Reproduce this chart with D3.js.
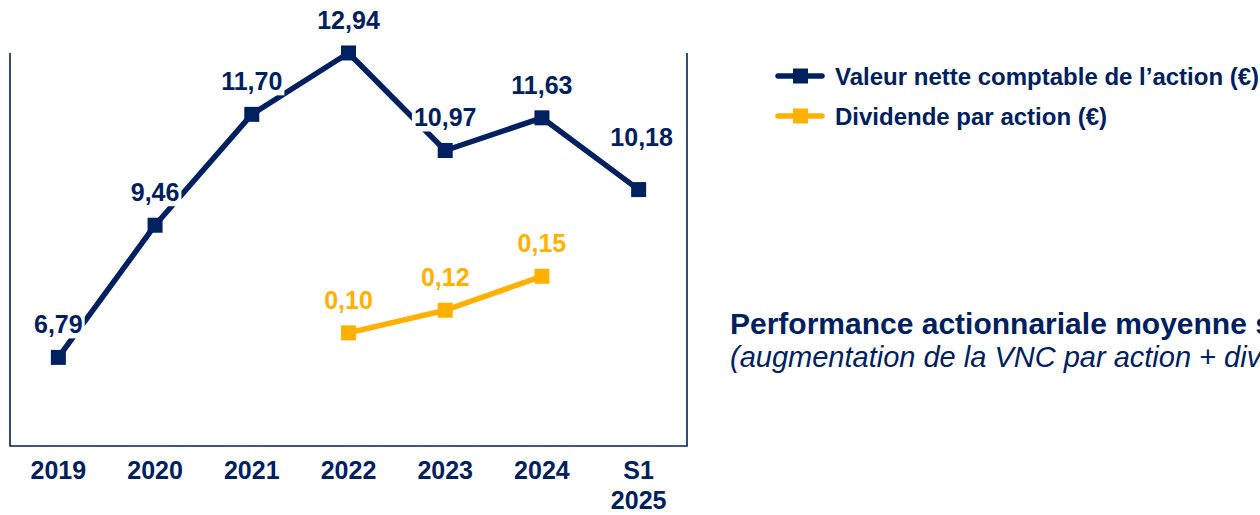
<!DOCTYPE html>
<html lang="fr">
<head>
<meta charset="UTF-8">
<title>VNC et dividende par action</title>
<script src="https://d3js.org/d3.v7.min.js"></script>
<style>
  body { margin: 0; padding: 0; width: 1260px; height: 515px; overflow: hidden; background: #fff; }
  svg { display: block; font-family: "Liberation Sans", Arial, sans-serif; }
</style>
</head>
<body>
<svg id="chart" width="1260" height="515"></svg>
<script>
// data
const periods = ["2019", "2020", "2021", "2022", "2023", "2024", "S1 2025"];
const vnc = [6.79, 9.46, 11.70, 12.94, 10.97, 11.63, 10.18];
const dividendPeriods = ["2022", "2023", "2024"];
const dividend = [0.10, 0.12, 0.15];
const legendLabels = ["Valeur nette comptable de l\u2019action (\u20ac)", "Dividende par action (\u20ac)"];
// the note is cut by the right edge of the slide
const noteTitle = "Performance actionnariale moyenne s";
const noteSub = "(augmentation de la VNC par action + div";

const navy = "#002060";
const orange = "#FFB000";

const svg = d3.select("#chart");
const plotLeft = 10, plotRight = 687, plotTop = 53, plotBottom = 446;

const x = d3.scaleBand().domain(periods).range([plotLeft, plotRight]);
const cx = d => x(d) + x.bandwidth() / 2;
const y = d3.scaleLinear().domain([5, 13]).range([plotBottom, 50]);
const y2 = d3.scaleLinear().domain([0, 0.35]).range([plotBottom, 50]);

const fmt = v => d3.format(".2f")(v).replace(".", ",");

// frame: left, right and bottom lines
svg.append("path")
  .attr("d", `M${plotLeft},${plotTop}V${plotBottom}H${plotRight}V${plotTop}`)
  .attr("fill", "none")
  .attr("stroke", navy)
  .attr("stroke-width", 1.6);

// x axis labels
const xl = svg.append("g");
periods.forEach(p => {
  const t = xl.append("text")
    .attr("x", cx(p))
    .attr("y", 479)
    .attr("text-anchor", "middle")
    .attr("font-size", 25)
    .attr("font-weight", "bold")
    .attr("fill", navy);
  p.split(" ").forEach((w, i) => {
    t.append("tspan").attr("x", cx(p)).attr("dy", i ? 30 : 0).text(w);
  });
});

function series(cats, vals, scale, color) {
  const pts = cats.map((c, i) => ({ c, v: vals[i], x: cx(c), y: scale(vals[i]) }));

  svg.append("path")
    .datum(pts)
    .attr("d", d3.line().x(d => d.x).y(d => d.y))
    .attr("fill", "none")
    .attr("stroke", color)
    .attr("stroke-width", 5.5)
    .attr("stroke-linejoin", "round");

  const lab = svg.append("g").selectAll("g").data(pts).enter().append("g");
  lab.each(function (d, i) {
    const g = d3.select(this);
    // last point's label sits higher and a bit to the right
    const last = color === navy && i === pts.length - 1;
    const t = g.append("text")
      .attr("x", d.x + (last ? 3 : 0))
      .attr("y", d.y - (last ? 44 : 24))
      .attr("text-anchor", "middle")
      .attr("font-size", 25)
      .attr("font-weight", "bold")
      .attr("fill", color)
      .text(fmt(d.v));
    const b = t.node().getBBox();
    g.insert("rect", "text")
      .attr("x", b.x - 2).attr("y", b.y + 2)
      .attr("width", b.width + 4).attr("height", b.height - 2)
      .attr("fill", "#fff");
  });

  svg.append("g").selectAll("rect").data(pts).enter().append("rect")
    .attr("x", d => d.x - 7.5)
    .attr("y", d => d.y - 7.5)
    .attr("width", 15)
    .attr("height", 15)
    .attr("fill", color);
}

series(periods, vnc, y, navy);
series(dividendPeriods, dividend, y2, orange);

// legend
const legend = svg.append("g");
[navy, orange].forEach((c, i) => {
  const ly = 76 + i * 40;
  legend.append("line")
    .attr("x1", 778).attr("x2", 822)
    .attr("y1", ly).attr("y2", ly)
    .attr("stroke", c).attr("stroke-width", 5.5).attr("stroke-linecap", "round");
  legend.append("rect")
    .attr("x", 793).attr("y", ly - 7.5)
    .attr("width", 15).attr("height", 15)
    .attr("fill", c);
  legend.append("text")
    .attr("x", 835).attr("y", ly + 8.5)
    .attr("font-size", 24)
    .attr("font-weight", "bold")
    .attr("fill", navy)
    .text(legendLabels[i]);
});

// note on the right
svg.append("text")
  .attr("x", 730).attr("y", 334)
  .attr("font-size", 30)
  .attr("font-weight", "bold")
  .attr("fill", navy)
  .text(noteTitle);
svg.append("text")
  .attr("x", 730).attr("y", 367)
  .attr("font-size", 29)
  .attr("font-style", "italic")
  .attr("fill", navy)
  .text(noteSub);
</script>
</body>
</html>
